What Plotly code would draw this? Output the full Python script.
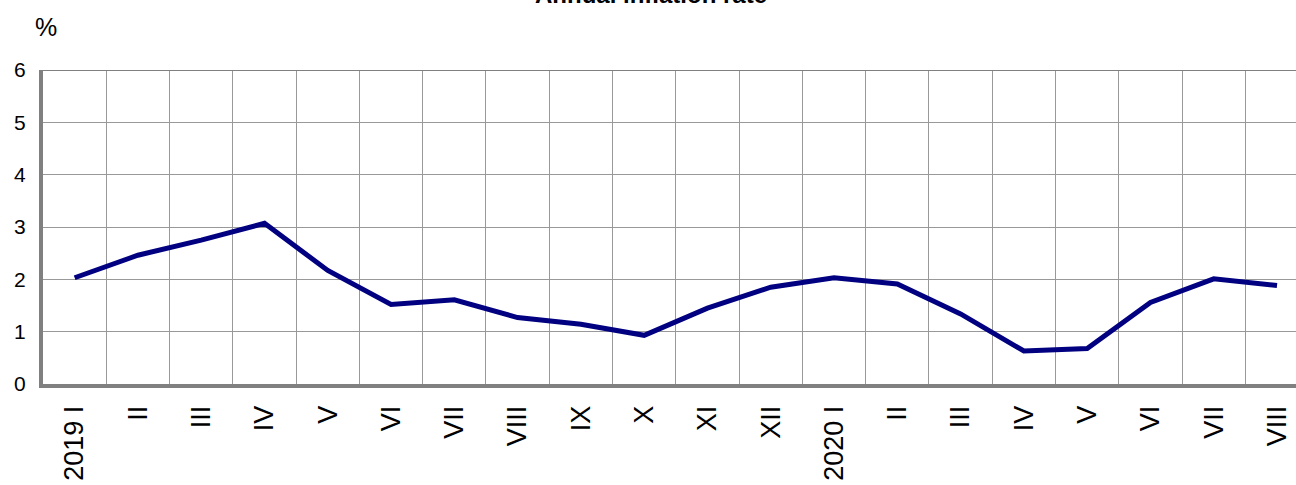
import plotly.graph_objects as go

months = ["2019 I", "II", "III", "IV", "V", "VI", "VII", "VIII", "IX", "X", "XI", "XII",
          "2020 I", "II", "III", "IV", "V", "VI", "VII", "VIII"]
inflation = [2.03, 2.46, 2.75, 3.07, 2.17, 1.52, 1.61, 1.27, 1.14, 0.93, 1.45, 1.85,
             2.03, 1.91, 1.34, 0.63, 0.68, 1.56, 2.01, 1.88]
y_ticks = [0, 1, 2, 3, 4, 5, 6]

x = list(range(len(months)))

fig = go.Figure()
fig.add_trace(go.Scatter(x=x, y=inflation, mode="lines",
                         line=dict(color="#000080", width=5), hoverinfo="skip"))

FONT = "Liberation Sans, Arial, sans-serif"

fig.update_layout(
    width=1296, height=485,
    margin=dict(l=43, r=0, t=70, b=101, pad=0),
    paper_bgcolor="white", plot_bgcolor="white",
    showlegend=False,
    font=dict(family=FONT, size=18, color="black"),
)

fig.update_xaxes(
    range=[-0.5, 19.3], automargin=False,
    tickmode="array", tickvals=x, ticktext=months,
    tickangle=-90, tickfont=dict(family=FONT, size=27, color="black"),
    showgrid=False, zeroline=False,
    showline=True, linecolor="#808080", linewidth=4,
    ticks="", ticklabelstandoff=7,
    minor=dict(tick0=0.5, dtick=1, showgrid=True, gridcolor="#999999", gridwidth=1, ticks=""),
)
fig.update_yaxes(
    range=[0, 6], automargin=False, tickmode="array", tickvals=y_ticks,
    tickfont=dict(family=FONT, size=21, color="black"),
    showgrid=True, gridcolor="#999999", gridwidth=1, zeroline=False,
    showline=True, linecolor="#808080", linewidth=4,
    ticks="", ticklabelstandoff=9,
)

# top border
fig.add_shape(type="line", xref="paper", yref="y", x0=0, x1=1, y0=6, y1=6,
              line=dict(color="#808080", width=2))

fig.add_annotation(text="<b>Annual inflation rate</b>", xref="paper", yref="paper",
                   x=(651 - 43) / (1296 - 43), y=1 + (70 - 10) / 313.5,
                   xanchor="center", yanchor="bottom", showarrow=False,
                   font=dict(family=FONT, size=24, color="black"))
fig.add_annotation(text="%", xref="paper", yref="paper",
                   x=(46 - 43) / (1296 - 43), y=1 + (70 - 27) / 313.5,
                   xanchor="center", yanchor="middle", showarrow=False,
                   font=dict(family=FONT, size=25, color="black"))

fig.write_html("out.html", config={"displayModeBar": False},
               post_script="document.body.style.margin='0';")
